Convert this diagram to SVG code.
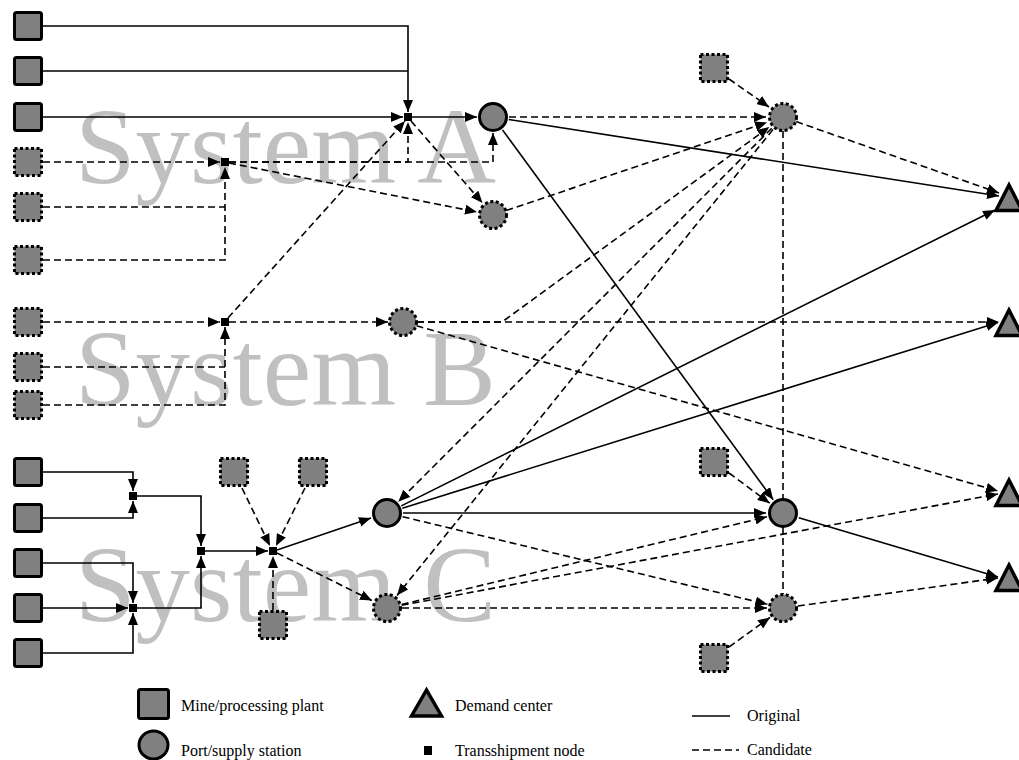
<svg xmlns="http://www.w3.org/2000/svg" width="1019" height="760" viewBox="0 0 1019 760">
<style>
.bg{fill:#fff}
.sys{font-family:"Liberation Serif","Times New Roman",serif;font-size:109px;fill:#c0c0c0}
.lg{font-family:"Liberation Serif","Times New Roman",serif;font-size:16px;fill:#000}
.sq{fill:#808080;stroke:#000;stroke-width:3}
.dsq{fill:#808080;stroke:#000;stroke-width:3;stroke-dasharray:3 2.5}
.pc{fill:#808080;stroke:#000;stroke-width:3}
.dpc{fill:#808080;stroke:#000;stroke-width:3;stroke-dasharray:3 2.5}
.tn{fill:#000}
.tri{fill:#808080;stroke:#000;stroke-width:3.5;stroke-linejoin:miter}
.s{fill:none;stroke:#000;stroke-width:1.6}
.d{fill:none;stroke:#000;stroke-width:1.6;stroke-dasharray:7 4}
.a{marker-end:url(#ah)}
</style>
<defs>
<marker id="ah" markerUnits="userSpaceOnUse" markerWidth="12" markerHeight="10" refX="12" refY="5" orient="auto">
<path d="M0,0 L12,5 L0,10 z" fill="#000" stroke="none"/>
</marker>
</defs>
<rect class="bg" x="0" y="0" width="1019" height="760"/>
<g id="labels">
<text class="sys" x="75" y="183">System A</text>
<text class="sys" x="75" y="405">System B</text>
<text class="sys" x="75" y="621">System C</text>
</g>
<g id="connectors">
<path class="s a" d="M43,26 H408 V112"/>
<path class="s" d="M43,71 H408"/>
<path class="s a" d="M43,117 H403"/>
<path class="s a" d="M412,117 H477"/>
<path class="d a" d="M43,162 H220"/>
<path class="d" d="M43,207 H225"/>
<path class="d a" d="M43,260 H225 V167"/>
<path class="d a" d="M229,162 H408 V122"/>
<path class="d a" d="M229,162 H493 V133"/>
<path class="d a" d="M229,163 L477,212"/>
<path class="d a" d="M411,121 L482.5,203"/>
<path class="d a" d="M228,318 L405,121"/>
<path class="d a" d="M43,322 H220"/>
<path class="d" d="M43,367 H225"/>
<path class="d a" d="M43,405 H225 V327"/>
<path class="d a" d="M229,322 H388"/>
<path class="s a" d="M43,472 H133 V491"/>
<path class="s a" d="M43,518 H133 V501"/>
<path class="s a" d="M43,563 H133 V603"/>
<path class="s a" d="M43,608 H128"/>
<path class="s a" d="M43,653 H133 V613"/>
<path class="s a" d="M137,496 H201 V546"/>
<path class="s a" d="M137,608 H201 V556"/>
<path class="s a" d="M205,551 H268"/>
<path class="d a" d="M242,488 L270,546"/>
<path class="d a" d="M305,488 L276,546"/>
<path class="d a" d="M273,610 V556"/>
<path class="s a" d="M277,550 L371,518"/>
<path class="d a" d="M277,553 L372,600.6"/>
<path class="s a" d="M508.8,119.5 L999,196"/>
<path class="s a" d="M502.5,129.9 L773.2,499.7"/>
<path class="d a" d="M509,117 H766"/>
<path class="d a" d="M506.3,210.5 L767,122.4"/>
<path class="d a" d="M729,79 L769,107"/>
<path class="d a" d="M417,322 H502 L769.3,127"/>
<path class="d a" d="M417,322 H999"/>
<path class="d a" d="M416.5,325.8 L998,491"/>
<path class="d a" d="M796.2,121.6 L999,193"/>
<path class="d" d="M783,131 V594"/>
<path class="d a" d="M771.7,128.3 L398.3,501.7"/>
<path class="d a" d="M773,129.5 L397,595.5"/>
<path class="s a" d="M403,513 H766"/>
<path class="s a" d="M401.3,505.9 L995,210"/>
<path class="s a" d="M402.3,508.2 L998,322.5"/>
<path class="d a" d="M402.6,516.7 L767.4,604.3"/>
<path class="d a" d="M402,608 H767"/>
<path class="d a" d="M401.6,604.5 L767,516.8"/>
<path class="d a" d="M401.7,605.3 L998,494"/>
<path class="s a" d="M798.8,517.7 L998,577"/>
<path class="d a" d="M797.9,606 L998,578"/>
<path class="d a" d="M729,473 L769.7,503.2"/>
<path class="d a" d="M729,647 L770,617.4"/>
</g>
<g id="sysA-mines">
<rect id="mA1" class="sq" x="14.5" y="12.5" width="27" height="27" rx="2"/>
<rect id="mA2" class="sq" x="14.5" y="57.5" width="27" height="27" rx="2"/>
<rect id="mA3" class="sq" x="14.5" y="103.5" width="27" height="27" rx="2"/>
<rect id="mA4" class="dsq" x="14.5" y="148.5" width="27" height="27"/>
<rect id="mA5" class="dsq" x="14.5" y="193.5" width="27" height="27"/>
<rect id="mA6" class="dsq" x="14.5" y="246.5" width="27" height="27"/>
</g>
<g id="sysB-mines">
<rect id="mB1" class="dsq" x="14.5" y="308.5" width="27" height="27"/>
<rect id="mB2" class="dsq" x="14.5" y="353.5" width="27" height="27"/>
<rect id="mB3" class="dsq" x="14.5" y="391.5" width="27" height="27"/>
</g>
<g id="sysC-mines">
<rect id="mC1" class="sq" x="14.5" y="458.5" width="27" height="27" rx="2"/>
<rect id="mC2" class="sq" x="14.5" y="504.5" width="27" height="27" rx="2"/>
<rect id="mC3" class="sq" x="14.5" y="549.5" width="27" height="27" rx="2"/>
<rect id="mC4" class="sq" x="14.5" y="594.5" width="27" height="27" rx="2"/>
<rect id="mC5" class="sq" x="14.5" y="639.5" width="27" height="27" rx="2"/>
<rect id="mC6" class="dsq" x="220.5" y="458.5" width="27" height="27"/>
<rect id="mC7" class="dsq" x="299.5" y="458.5" width="27" height="27"/>
<rect id="mC8" class="dsq" x="259.5" y="611.5" width="27" height="27"/>
</g>
<g id="other-mines">
<rect id="mF" class="dsq" x="700.5" y="54.5" width="27" height="27"/>
<rect id="mG" class="dsq" x="700.5" y="448.5" width="27" height="27"/>
<rect id="mH" class="dsq" x="700.5" y="644.5" width="27" height="27"/>
</g>
<g id="trans-nodes">
<rect id="tA1" class="tn" x="404" y="113" width="8" height="8"/>
<rect id="tA2" class="tn" x="221" y="158" width="8" height="8"/>
<rect id="tB1" class="tn" x="221" y="318" width="8" height="8"/>
<rect id="tC1" class="tn" x="129" y="492" width="8" height="8"/>
<rect id="tC2" class="tn" x="129" y="604" width="8" height="8"/>
<rect id="tC3" class="tn" x="197" y="547" width="8" height="8"/>
<rect id="tC4" class="tn" x="269" y="547" width="8" height="8"/>
</g>
<g id="ports">
<circle id="pA" class="pc" cx="493" cy="117" r="13.5"/>
<circle id="pA2" class="dpc" cx="493" cy="215" r="13.5"/>
<circle id="pB" class="dpc" cx="403" cy="322" r="13.5"/>
<circle id="pC" class="pc" cx="387" cy="513" r="13.5"/>
<circle id="pC2" class="dpc" cx="387" cy="608" r="13.5"/>
<circle id="pE" class="dpc" cx="783" cy="117" r="13.5"/>
<circle id="pD" class="pc" cx="783" cy="513" r="13.5"/>
<circle id="pG" class="dpc" cx="783" cy="608" r="13.5"/>
</g>
<g id="demand">
<polygon id="d1" class="tri" points="1009,185 996,210.5 1022,210.5"/>
<polygon id="d2" class="tri" points="1009,310 996,335.5 1022,335.5"/>
<polygon id="d3" class="tri" points="1009,480 996,505.5 1022,505.5"/>
<polygon id="d4" class="tri" points="1009,565 996,590.5 1022,590.5"/>
</g>
<g id="legend">
<rect class="sq" x="138.5" y="689.5" width="30" height="29" rx="2"/>
<text class="lg" x="181" y="711">Mine/processing plant</text>
<polygon class="tri" points="426.5,690 411.5,716 441.5,716"/>
<text class="lg" x="455" y="711">Demand center</text>
<line class="s" x1="692" y1="716" x2="730" y2="716"/>
<text class="lg" x="747" y="721">Original</text>
<ellipse class="pc" cx="153.5" cy="745" rx="14.5" ry="14"/>
<text class="lg" x="181" y="756">Port/supply station</text>
<rect class="tn" x="424" y="746" width="8" height="9"/>
<text class="lg" x="455" y="756">Transshipment node</text>
<line class="d" x1="692" y1="750" x2="739" y2="750"/>
<text class="lg" x="747" y="755">Candidate</text>
</g>
</svg>
